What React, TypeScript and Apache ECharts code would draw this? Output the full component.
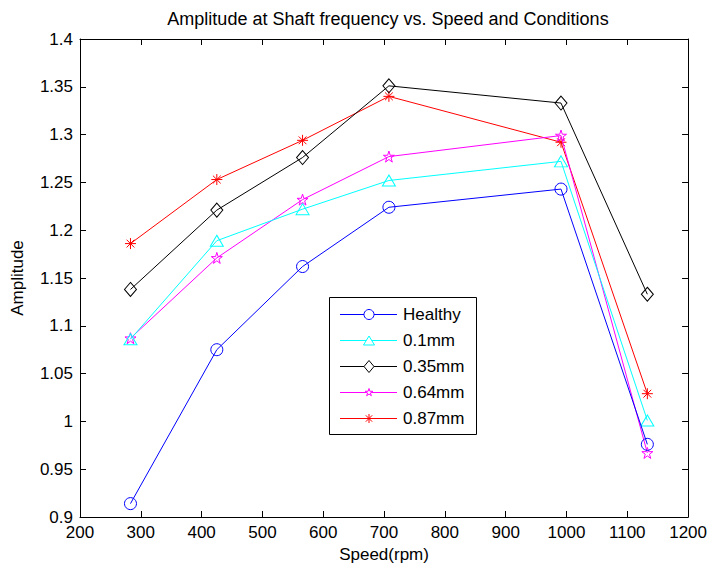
import React, { useEffect, useRef } from "react";
import * as echarts from "echarts";

const speeds = [283, 425, 566, 708, 991, 1133];
const seriesNames = ["Healthy", "0.1mm", "0.35mm", "0.64mm", "0.87mm"];
const healthy = [0.914, 1.075, 1.162, 1.224, 1.243, 0.976];
const mm01 = [1.086, 1.189, 1.222, 1.252, 1.272, 1.001];
const mm035 = [1.138, 1.221, 1.276, 1.351, 1.333, 1.133];
const mm064 = [1.087, 1.171, 1.232, 1.277, 1.299, 0.967];
const mm087 = [1.186, 1.253, 1.294, 1.340, 1.292, 1.029];
const xTicks = [200, 1200, 100];
const yTicks = [0.9, 1.4, 0.05];

const STAR =
  "path://M0,-1L0.2245,-0.309L0.951,-0.309L0.363,0.118L0.588,0.809L0,0.382L-0.588,0.809L-0.363,0.118L-0.951,-0.309L-0.2245,-0.309Z";
const ASTER =
  "path://M0,-1L0,1M-1,0L1,0M-0.707,-0.707L0.707,0.707M-0.707,0.707L0.707,-0.707";

const FONT = "Liberation Sans, Arial, sans-serif";

function legendMarker(kind: number, cx: number, cy: number, color: string): any[] {
  const style = { fill: "#fff", stroke: color, lineWidth: 1 };
  if (kind === 0) return [{ type: "circle", shape: { cx, cy, r: 5 }, style }];
  if (kind === 1)
    return [{ type: "polygon", shape: { points: [[cx, cy - 4.5], [cx + 5.5, cy + 4.5], [cx - 5.5, cy + 4.5]] }, style }];
  if (kind === 2)
    return [{ type: "polygon", shape: { points: [[cx, cy - 6], [cx + 5, cy], [cx, cy + 6], [cx - 5, cy]] }, style }];
  if (kind === 3) {
    const offs = [
      [0, -4], [0.898, -1.236], [3.804, -1.236], [1.452, 0.472], [2.351, 3.236],
      [0, 1.528], [-2.351, 3.236], [-1.452, 0.472], [-3.804, -1.236], [-0.898, -1.236],
    ];
    return [{ type: "polygon", shape: { points: offs.map(([dx, dy]) => [cx + dx, cy + dy]) }, style }];
  }
  const r = 4.5;
  const d = r * 0.707;
  const segs = [
    [0, -r, 0, r],
    [-r, 0, r, 0],
    [-d, -d, d, d],
    [-d, d, d, -d],
  ];
  return segs.map(([a, b, c, e]) => ({
    type: "line",
    shape: { x1: cx + a, y1: cy + b, x2: cx + c, y2: cy + e },
    style: { stroke: color, lineWidth: 1 },
  }));
}

export default function App() {
  const ref = useRef<HTMLDivElement>(null);
  useEffect(() => {
    if (!ref.current) return;
    const chart = echarts.init(ref.current, null, { renderer: "svg" });
    const values = [healthy, mm01, mm035, mm064, mm087];
    const colors = ["#0000ff", "#00ffff", "#000000", "#ff00ff", "#ff0000"];
    const symbols: any[] = ["circle", "triangle", "diamond", STAR, ASTER];
    const sizes: any[] = [12, [13, 11], [12, 14], 11, 11];
    const clear = "rgba(255,255,255,0)";
    const series = values.map((vals, i) => ({
      name: seriesNames[i],
      type: "line",
      data: vals.map((v, j) => [speeds[j], v]),
      symbol: symbols[i],
      symbolSize: sizes[i],
      showAllSymbol: true,
      lineStyle: { color: colors[i], width: 1 },
      itemStyle: { color: clear, borderColor: colors[i], borderWidth: 1 },
      emphasis: { disabled: true },
      z: 10 - i,
    }));
    const axisCommon = {
      type: "value",
      axisLine: { show: true, onZero: false, lineStyle: { color: "#000", width: 1 } },
      axisTick: { show: true, inside: true, length: 6, lineStyle: { color: "#000" } },
      splitLine: { show: false },
    };

    // legend box drawn with graphic elements
    const legendChildren: any[] = [
      {
        type: "rect",
        shape: { x: 0.5, y: 0.5, width: 147, height: 137 },
        style: { fill: "#fff", stroke: "#000", lineWidth: 1 },
      },
    ];
    seriesNames.forEach((n, i) => {
      const cy = 17.5 + 26 * i;
      legendChildren.push({
        type: "line",
        shape: { x1: 11, y1: cy, x2: 68, y2: cy },
        style: { stroke: colors[i], lineWidth: 1 },
      });
      legendMarker(i, 40, cy, colors[i]).forEach((m) => legendChildren.push(m));
      legendChildren.push({
        type: "text",
        x: 74,
        y: cy,
        style: {
          text: n,
          fill: "#000",
          fontSize: 17,
          fontFamily: FONT,
          verticalAlign: "middle",
          align: "left",
        },
      });
    });

    chart.setOption({
      animation: false,
      backgroundColor: "#fff",
      title: {
        text: "Amplitude at Shaft frequency vs. Speed and Conditions",
        left: 383,
        textAlign: "center",
        top: 5,
        textStyle: { fontFamily: FONT, fontSize: 18, fontWeight: "normal", color: "#000" },
      },
      graphic: [
        {
          type: "group",
          x: 329,
          y: 297,
          z: 100,
          silent: true,
          children: legendChildren,
        },
      ],
      grid: { left: 80, right: 21, top: 39, bottom: 52, containLabel: false },
      xAxis: [
        {
          ...axisCommon,
          position: "bottom",
          min: xTicks[0],
          max: xTicks[1],
          interval: xTicks[2],
          name: "Speed(rpm)",
          nameLocation: "middle",
          nameGap: 28,
          nameTextStyle: { fontFamily: FONT, fontSize: 17, color: "#000" },
          axisLabel: {
            fontFamily: FONT,
            fontSize: 17,
            color: "#000",
            margin: 7,
            formatter: (v: number) => String(v),
          },
        },
        {
          ...axisCommon,
          position: "top",
          min: xTicks[0],
          max: xTicks[1],
          interval: xTicks[2],
          axisLabel: { show: false },
        },
      ],
      yAxis: [
        {
          ...axisCommon,
          position: "left",
          min: yTicks[0],
          max: yTicks[1],
          interval: yTicks[2],
          name: "Amplitude",
          nameLocation: "middle",
          nameGap: 54,
          nameTextStyle: { fontFamily: FONT, fontSize: 17, color: "#000" },
          axisLabel: { fontFamily: FONT, fontSize: 17, color: "#000", margin: 7 },
        },
        {
          ...axisCommon,
          position: "right",
          min: yTicks[0],
          max: yTicks[1],
          interval: yTicks[2],
          axisLabel: { show: false },
        },
      ],
      series,
    });
    return () => chart.dispose();
  }, []);
  return <div ref={ref} style={{ width: 710, height: 569, position: "absolute", left: 0, top: 0 }} />;
}
